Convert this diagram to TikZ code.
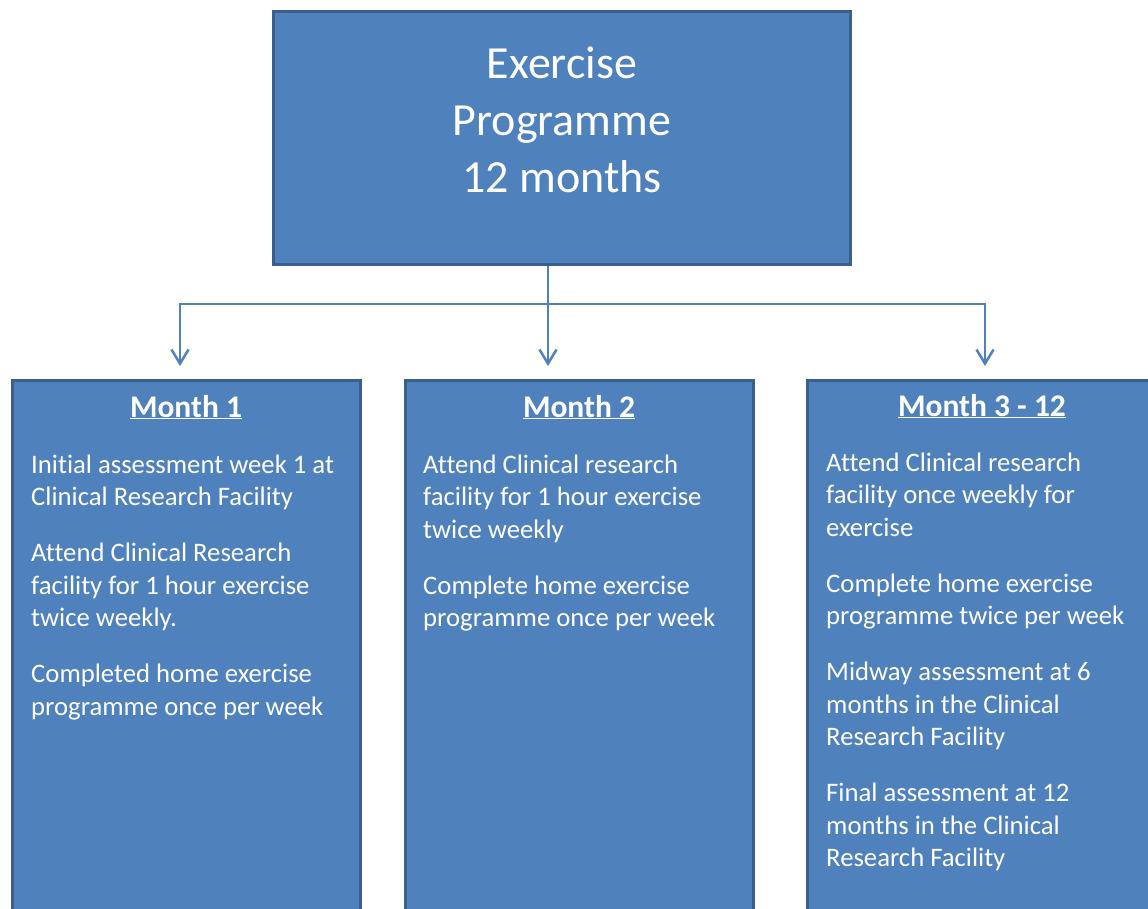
\documentclass[tikz,border=0pt]{standalone}
\usepackage{fontspec}
\setmainfont{Carlito}[Ligatures=NoCommon]
\usetikzlibrary{arrows.meta}
\definecolor{boxfill}{HTML}{4F81BD}
\definecolor{boxline}{HTML}{3A5F8C}

\begin{document}
\begin{tikzpicture}[x=1pt,y=-1pt,
  box/.style={draw=boxline, line width=3pt, fill=boxfill, inner sep=0pt},
  title/.style={text=white, font=\fontsize{46}{57}\selectfont, align=center, inner sep=0pt, anchor=north},
  head/.style={text=white, font=\bfseries\fontsize{31.5}{37}\selectfont, inner sep=0pt, anchor=base},
  body/.style={text=white, font=\fontsize{26.7}{32.5}\selectfont, align=left, inner sep=0pt, anchor=north west},
  link/.style={draw=boxfill, line width=2.5pt},
  tip/.style={-{Straight Barb[length=14pt,width=17pt]}}]
\useasboundingbox (0,0) rectangle (1148,909);
\clip (0,0) rectangle (1148,909);

% top box
\node[box, minimum width=577, minimum height=253] (prog) at (562,138) {};
\node[title] (progtext) at (562,38.1) {\strut Exercise\\Programme\\12 months};

% month boxes
\node[box, minimum width=348, minimum height=620, anchor=north] (m1) at (186.5,378.5) {};
\node[box, minimum width=348, minimum height=620, anchor=north] (m2) at (579,378.5) {};
\node[box, minimum width=348, minimum height=620, anchor=north] (m3) at (981.5,378.5) {};

% connectors
\coordinate (split) at (548,304);
\coordinate (tip1) at (180,366);
\coordinate (tip2) at (548,366);
\coordinate (tip3) at (985,366);
\draw[link] (prog.south -| split) -- (split);
\draw[link,tip] (split) -| (tip1);
\draw[link,tip] (split) -- (tip2);
\draw[link,tip] (split) -| (tip3);

% month 1
\node[head] (m1head) at (186,417) {\underline{Month 1}};
\node[body] (m1text) at (31,450.25) {\strut Initial assessment week 1 at\\Clinical Research Facility\\[23.5pt]%
Attend Clinical Research\\facility for 1 hour exercise\\twice weekly.\\[23.5pt]%
Completed home exercise\\programme once per week};

% month 2
\node[head] (m2head) at (579,417) {\underline{Month 2}};
\node[body] (m2text) at (423,450.25) {\strut Attend Clinical research\\facility for 1 hour exercise\\twice weekly\\[23.5pt]%
Complete home exercise\\programme once per week};

% month 3 - 12
\node[head] (m3head) at (982,416) {\underline{Month 3 - 12}};
\node[body] (m3text) at (826,448.25) {\strut Attend Clinical research\\facility once weekly for\\exercise\\[23.5pt]%
Complete home exercise\\programme twice per week\\[23.5pt]%
Midway assessment at 6\\months in the Clinical\\Research Facility\\[23.5pt]%
Final assessment at 12\\months in the Clinical\\Research Facility};
\end{tikzpicture}
\end{document}
